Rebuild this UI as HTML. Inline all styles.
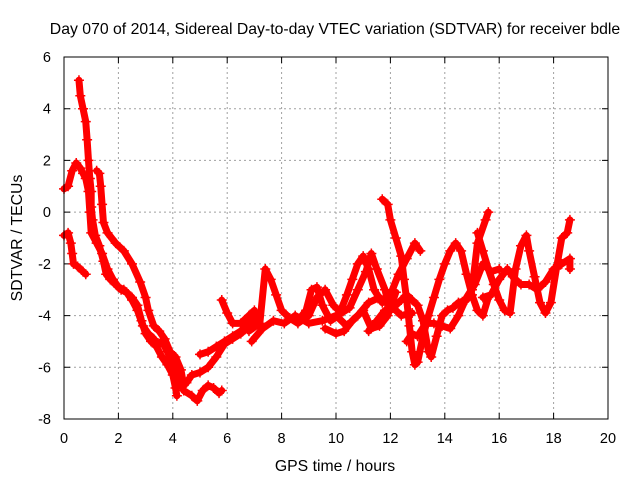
<!DOCTYPE html>
<html><head><meta charset="utf-8"><style>
body{margin:0;background:#fff}
svg{display:block;font-family:"Liberation Sans",Arial,sans-serif}
</style></head><body>
<svg id="chart" width="640" height="480" xmlns="http://www.w3.org/2000/svg">
<rect width="640" height="480" fill="#fff"/>
<text x="335" y="34" font-size="15.8" text-anchor="middle">Day 070 of 2014, Sidereal Day-to-day VTEC variation (SDTVAR) for receiver bdle</text>
<text transform="translate(22,238) rotate(-90)" font-size="15.8" text-anchor="middle">SDTVAR / TECUs</text>
<text x="335" y="471" font-size="15.8" text-anchor="middle">GPS time / hours</text>
<g id="grid"></g><g id="ticks"></g><g id="marks"></g>
<rect x="64" y="57" width="544" height="362" fill="none" stroke="#000" stroke-width="1"/>
</svg>
<script>
const xTicks=[0,2,4,6,8,10,12,14,16,18,20];
const yTicks=[-8,-6,-4,-2,0,2,4,6];
const s1=[[0,-0.9],[0.15,-0.8],[0.25,-1.2],[0.3,-1.6],[0.35,-2.0],[0.5,-2.1],[0.7,-2.3],[0.8,-2.4]];
const s2=[[0,0.9],[0.15,1.0],[0.3,1.6],[0.45,1.9],[0.6,1.7],[0.7,1.5],[0.8,1.3],[0.9,0.8],[0.95,0.0],[1.0,-0.8],[1.2,-1.2],[1.4,-1.6],[1.6,-2.2],[1.8,-2.6],[2.0,-2.9],[2.2,-3.0],[2.5,-3.3],[2.7,-3.6],[2.85,-4.2],[3.0,-4.7],[3.2,-5.0],[3.4,-5.2],[3.6,-5.6],[3.8,-5.9],[4.0,-6.3],[4.1,-6.8],[4.15,-7.1]];
const s3=[[0.55,5.1],[0.6,4.5],[0.7,4.0],[0.8,3.5],[0.85,2.8],[0.9,2.0],[0.95,1.3],[1.0,0.8],[1.0,0.2],[1.05,-0.3],[1.15,-0.9],[1.3,-1.3],[1.45,-1.9],[1.55,-2.4],[1.7,-2.6],[1.9,-2.8],[2.1,-3.0],[2.3,-3.1],[2.5,-3.4],[2.7,-3.8],[2.9,-4.4],[3.1,-4.7],[3.3,-4.9],[3.45,-5.1],[3.6,-5.0],[3.8,-5.4],[4.0,-5.9],[4.2,-6.5],[4.4,-6.9],[4.7,-7.1],[4.9,-7.3],[5.1,-6.9],[5.3,-6.7],[5.5,-6.8],[5.7,-7.0],[5.8,-6.9]];
const s4=[[1.2,1.6],[1.3,1.5],[1.35,1.0],[1.4,0.3],[1.45,-0.4],[1.6,-0.8],[1.9,-1.2],[2.2,-1.5],[2.5,-2.0],[2.8,-2.7],[3.0,-3.3],[3.1,-3.8],[3.3,-4.4],[3.5,-4.6],[3.7,-4.9],[3.9,-5.4],[4.1,-5.6],[4.3,-6.1],[4.4,-6.7],[4.5,-6.6],[4.7,-6.3],[5.0,-6.2],[5.3,-6.0],[5.6,-5.6],[5.9,-5.1],[6.2,-4.9],[6.5,-4.7],[6.8,-4.4],[7.0,-4.3],[7.1,-4.0]];
const s5=[[5.0,-5.5],[5.3,-5.4],[5.6,-5.2],[5.9,-5.0],[6.2,-4.8],[6.5,-4.6],[6.8,-4.3],[7.0,-4.0]];
const s6=[[5.8,-3.4],[6.0,-3.9],[6.2,-4.3],[6.5,-4.3],[6.8,-4.0],[7.0,-3.8]];
const s7=[[6.8,-4.6],[7.2,-4.3],[7.4,-2.2],[7.6,-2.6],[7.8,-3.2],[8.0,-3.8],[8.3,-4.1],[8.6,-4.3],[9.0,-4.0],[9.3,-3.3],[9.6,-3.0],[9.9,-3.6],[10.2,-3.9],[10.5,-3.7],[10.8,-3.0],[11.1,-2.3],[11.3,-1.6],[11.5,-2.2],[11.8,-3.0],[12.0,-3.8]];
const s8=[[8.6,-4.2],[8.9,-3.8],[9.1,-3.0],[9.3,-2.9],[9.5,-3.6],[9.8,-4.2],[10.1,-4.0],[10.4,-3.2],[10.6,-2.6],[10.8,-2.0],[11.0,-1.7],[11.2,-2.2],[11.4,-3.0],[11.7,-3.5],[12.0,-3.2],[12.3,-2.4],[12.6,-1.8],[12.9,-1.2],[13.1,-1.5]];
const s9=[[11.7,0.5],[11.9,0.3],[12.0,-0.3],[12.2,-1.0],[12.4,-1.7],[12.5,-2.6],[12.6,-3.4],[12.7,-4.4],[12.8,-5.4],[12.9,-5.9],[13.0,-5.8],[13.2,-4.8],[13.4,-4.0],[13.6,-3.3],[13.8,-2.6],[14.0,-2.0],[14.2,-1.5],[14.4,-1.2],[14.6,-1.5],[14.8,-2.4],[15.0,-3.2],[15.2,-3.8],[15.4,-4.0],[15.6,-3.3]];
const s10=[[11.2,-4.6],[11.5,-4.2],[11.8,-3.8],[12.1,-3.7],[12.4,-3.4],[12.6,-3.2],[12.8,-3.4],[13.0,-3.6],[13.2,-4.2],[13.4,-5.4],[13.5,-5.6],[13.7,-4.8],[13.9,-4.0],[14.1,-3.8],[14.3,-3.7],[14.5,-3.5],[14.8,-3.4],[15.0,-3.0],[15.2,-1.2],[15.5,-0.3],[15.6,0.0]];
const s11=[[15.2,-0.8],[15.4,-1.5],[15.6,-2.2],[15.8,-2.8],[16.0,-3.4],[16.2,-3.8],[16.4,-3.9],[16.6,-2.2],[16.8,-1.3],[17.0,-0.9],[17.1,-1.5],[17.3,-2.5],[17.5,-3.5],[17.7,-3.9],[17.9,-3.5],[18.1,-2.2],[18.3,-1.0],[18.5,-0.8],[18.6,-0.3]];
const s12=[[15.4,-3.3],[15.7,-3.2],[16.0,-2.6],[16.3,-2.2],[16.5,-2.5],[16.8,-2.8],[17.1,-2.8],[17.4,-3.0],[17.7,-2.7],[18.0,-2.2],[18.3,-2.0],[18.6,-1.8],[18.6,-2.2]];
const s13=[[12.6,-5.0],[12.8,-4.7],[13.0,-4.8],[13.3,-4.3],[13.6,-4.3],[13.9,-4.4],[14.2,-4.5],[14.5,-4.0],[14.8,-3.3],[15.1,-2.8],[15.4,-2.0],[15.7,-2.3],[16.0,-2.2]];
const s14=[[6.9,-5.0],[7.3,-4.5],[7.7,-4.2],[8.1,-4.3],[8.5,-4.0],[9.0,-4.3],[9.5,-4.2],[10.0,-4.0],[10.4,-4.4],[10.8,-4.0],[11.2,-3.5],[11.6,-3.3],[12.0,-3.6],[12.4,-4.0],[12.8,-3.9]];
const s15=[[9.6,-4.5],[10.0,-4.7],[10.3,-4.6],[10.6,-4.2],[11.0,-3.8],[11.3,-4.5],[11.6,-4.4],[11.9,-4.0],[12.2,-3.1]];
const seriesList=[s1,s2,s3,s4,s5,s6,s7,s8,s9,s10,s11,s12,s13,s14,s15];

const NS="http://www.w3.org/2000/svg";
const X0=64,X1=608,Y0=419,Y1=57;
function xs(v){return X0+(v-0)/(20-0)*(X1-X0);}
function ys(v){return Y0-(v+8)/(6+8)*(Y0-Y1);}
function mk(t,a){const e=document.createElementNS(NS,t);for(const k in a)e.setAttribute(k,a[k]);return e;}
const grid=document.getElementById('grid'),ticks=document.getElementById('ticks'),marks=document.getElementById('marks');
xTicks.forEach(t=>{const x=xs(t);
 if(t>0&&t<20){const g=mk('line',{x1:x,x2:x,y1:Y1,y2:Y0,stroke:'#a0a0a0','stroke-dasharray':'2,3'});
 
 grid.appendChild(g);}
 const a=mk('path',{d:`M${x},${Y0}v-6M${x},${Y1}v6`,stroke:'#000'});
 
 ticks.appendChild(a);
 const l=mk('text',{x:x,y:443,'font-size':14.5,'text-anchor':'middle'});l.textContent=t;
 
 ticks.appendChild(l);});
yTicks.forEach(t=>{const y=ys(t);
 if(t>-8&&t<6){const g=mk('line',{x1:X0,x2:X1,y1:y,y2:y,stroke:'#a0a0a0','stroke-dasharray':'2,3'});
 
 grid.appendChild(g);}
 const a=mk('path',{d:`M${X0},${y}h6M${X1},${y}h-6`,stroke:'#000'});
 
 ticks.appendChild(a);
 const l=mk('text',{x:51,y:y+5,'font-size':14.5,'text-anchor':'end'});l.textContent=t;
 
 ticks.appendChild(l);});
seriesList.forEach((s,i)=>{
 const pl=mk('polyline',{points:s.map(p=>xs(p[0])+','+ys(p[1])).join(' '),fill:'none',stroke:'#ff0000','stroke-width':7,'stroke-linejoin':'round','stroke-linecap':'round'});
 
 marks.appendChild(pl);
 s.forEach(p=>{const x=xs(p[0]),y=ys(p[1]);
  const m=mk('path',{d:`M${x-5},${y}h10M${x},${y-5}v10`,stroke:'#ff0000','stroke-width':1.5});
  
  marks.appendChild(m);});
});
</script>
</body></html>
